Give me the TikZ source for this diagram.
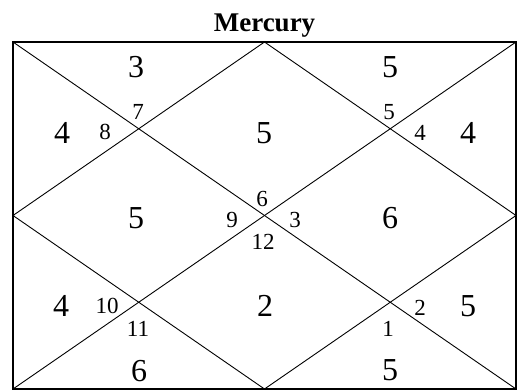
\documentclass[tikz,border=0pt]{standalone}
\usepackage{fontspec}
\setmainfont{Liberation Serif}
\begin{document}
\begin{tikzpicture}[x=1pt,y=-1pt,
  big/.style={inner sep=0pt,font=\fontsize{32}{32}\selectfont},
  small/.style={inner sep=0pt,font=\fontsize{23}{23}\selectfont},
  ttl/.style={inner sep=0pt,anchor=base,font=\fontsize{27}{27}\selectfont\bfseries},
  frame/.style={draw=black,line width=2pt},
  grid/.style={draw=black,line width=0.9pt}]
\useasboundingbox (0,0) rectangle (517,390);
\coordinate (tl) at (13,42);
\coordinate (tr) at (516,42);
\coordinate (br) at (516,389);
\coordinate (bl) at (13,389);
\coordinate (mt) at (264.5,42);
\coordinate (mr) at (516,215.5);
\coordinate (mb) at (264.5,389);
\coordinate (ml) at (13,215.5);
\node[ttl] (title) at (264.5,32) {Mercury};
\draw[grid] (tl) -- (br);
\draw[grid] (tr) -- (bl);
\draw[grid] (mt) -- (mr) -- (mb) -- (ml) -- cycle;
\draw[frame] (tl) rectangle (br);
% big numbers
\node[big] (h1) at (264,133) {5};
\node[big] (h2) at (136,67) {3};
\node[big] (h3) at (62,133) {4};
\node[big] (h4) at (136,218) {5};
\node[big] (h5) at (61,306) {4};
\node[big] (h6) at (139,371) {6};
\node[big] (h7) at (265,306) {2};
\node[big] (h8) at (390,370) {5};
\node[big] (h9) at (468,306) {5};
\node[big] (h10) at (390,218) {6};
\node[big] (h11) at (468,133) {4};
\node[big] (h12) at (390,67) {5};
% small numbers
\node[small] (s7) at (138,112) {7};
\node[small] (s8) at (105,132) {8};
\node[small] (s5) at (389,112) {5};
\node[small] (s4) at (420,133) {4};
\node[small] (s6) at (262,199) {6};
\node[small] (s9) at (232,220) {9};
\node[small] (s3) at (295,220) {3};
\node[small] (s12) at (263,242) {12};
\node[small] (s10) at (107,306) {10};
\node[small] (s11) at (138,329) {11};
\node[small] (s2) at (420,308) {2};
\node[small] (s1) at (388,329) {1};
\end{tikzpicture}
\end{document}
